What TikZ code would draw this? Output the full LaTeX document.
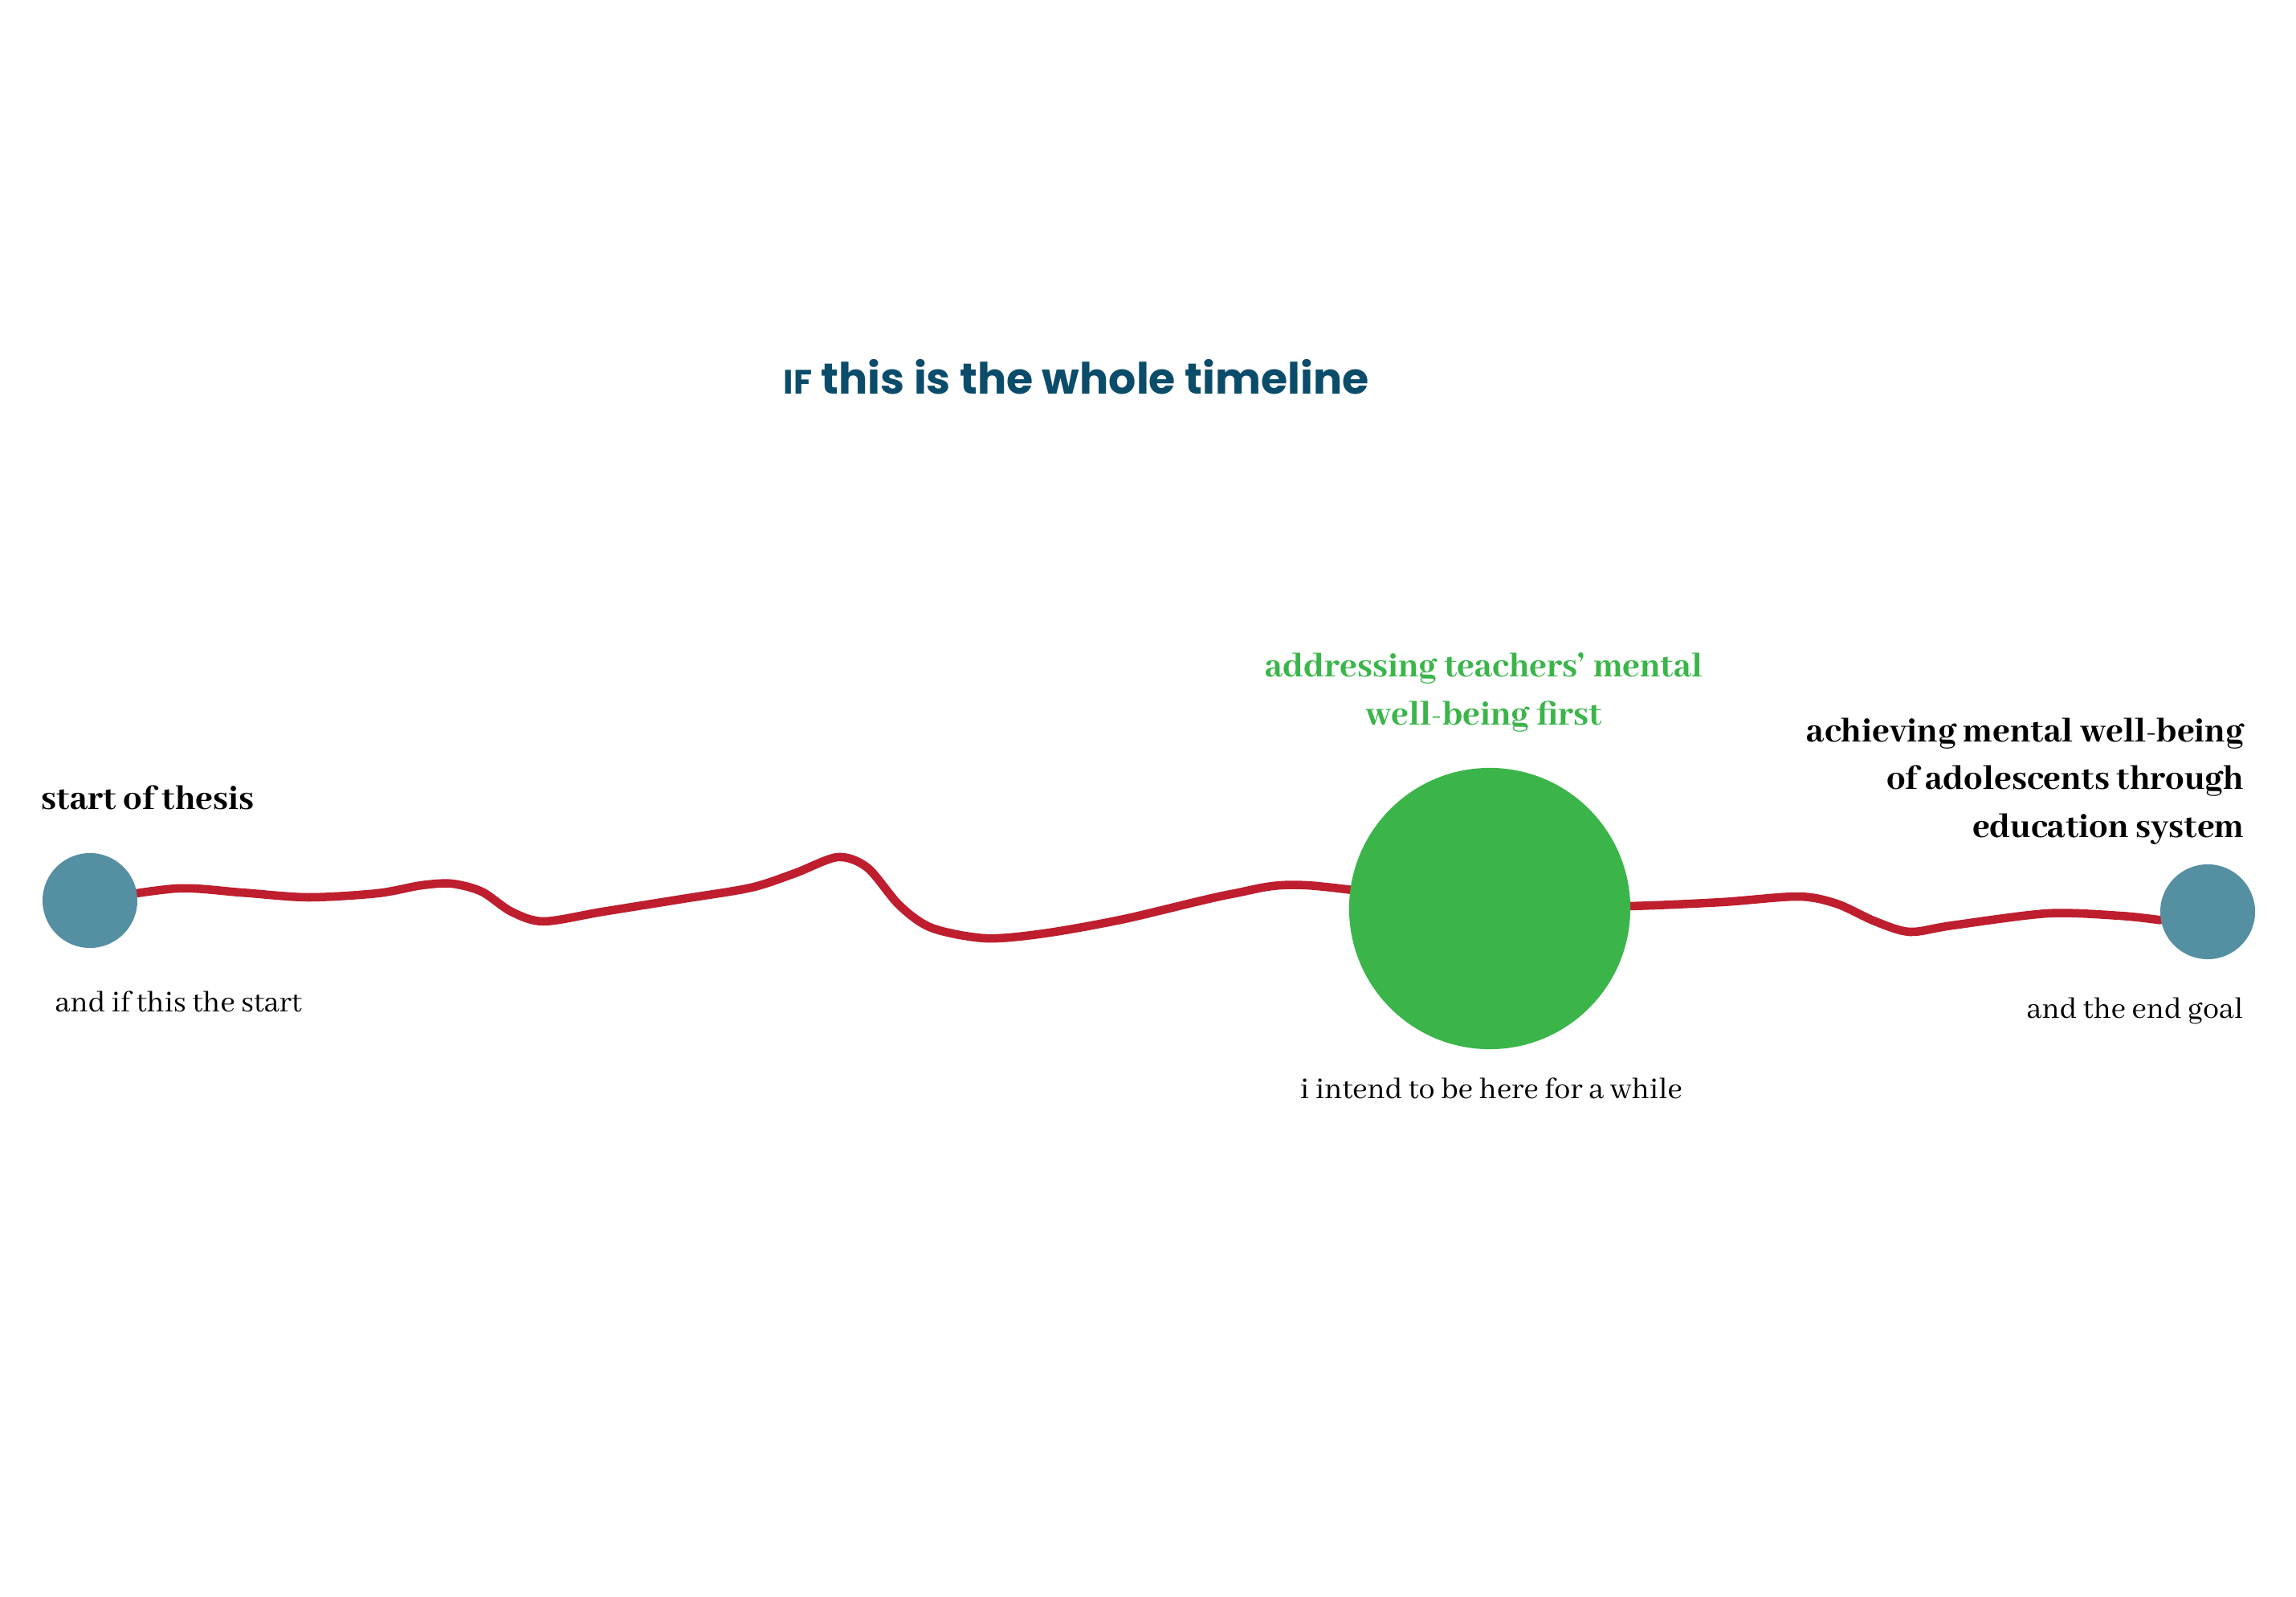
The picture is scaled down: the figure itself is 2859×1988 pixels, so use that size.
\documentclass[tikz,border=0pt]{standalone}
\usepackage{fontspec}
\setmainfont{Abhaya Libre}[BoldFont={* ExtraBold}]
\newfontfamily\headfont{Poppins}
\usetikzlibrary{backgrounds}

\definecolor{dotteal}{RGB}{85,143,162}
\definecolor{stopgreen}{RGB}{59,181,74}
\definecolor{pathred}{RGB}{190,30,45}
\definecolor{headblue}{RGB}{11,76,106}

\begin{document}
\begin{tikzpicture}[x=0.01cm,y=-0.01cm,
    dot/.style={circle,fill=#1,inner sep=0pt},
    bold text/.style={font=\fontsize{13.2}{16.8}\selectfont\bfseries,inner sep=0pt},
    plain text/.style={font=\fontsize{11.4}{14}\selectfont,inner sep=0pt},
    road/.style={pathred,line width=0.105cm,line cap=round}]
  \useasboundingbox (0,0) rectangle (2859,1988);

  \node[anchor=base west,inner sep=0pt,text=headblue,font=\headfont\bfseries\fontsize{15.3}{18}\selectfont] (title) at (975,490)
    {{\fontsize{12}{14}\selectfont IF} this is the whole timeline};

  \node[dot=dotteal,minimum size=1.18cm] (start) at (112,1121) {};
  \node[dot=stopgreen,minimum size=3.5cm] (mid) at (1855,1131) {};
  \node[dot=dotteal,minimum size=1.18cm] (goal) at (2749,1135) {};

  \begin{scope}[on background layer]
    \draw[road] plot[smooth,tension=0.5] coordinates {(start.center) (220,1106) (300,1111) (383,1117) (470,1112)
      (525,1102) (563,1100) (600,1110) (637,1135) (677,1147) (750,1135) (850,1119) (935,1105)
      (990,1087) (1043,1067) (1080,1080) (1120,1127) (1160,1155) (1227,1168) (1300,1162) (1400,1144) (1533,1113)
      (1627,1102) (mid.center)};
    \draw[road] plot[smooth,tension=0.5] coordinates {(mid.center) (2029,1128) (2144,1123) (2239,1116) (2287,1125)
      (2335,1147) (2378,1160) (2431,1152) (2550,1137) (2640,1140) (goal.190)};
  \end{scope}

  \node[bold text,anchor=base west] (thesis) at (51,1007) {start of thesis};
  \node[plain text,anchor=base west] (startnote) at (68,1259) {and if this the start};
  \node[bold text,text=stopgreen,align=center,anchor=base] (focus) at (1848,902)
    {addressing teachers’ mental\\well-being first};
  \node[plain text,anchor=base] (stay) at (1857,1367) {i intend to be here for a while};
  \node[bold text,align=right,anchor=base east] (aim) at (2795,1042)
    {achieving mental well-being\\of adolescents through\\education system};
  \node[plain text,anchor=base east] (goalnote) at (2794,1267) {and the end goal};
\end{tikzpicture}
\end{document}
